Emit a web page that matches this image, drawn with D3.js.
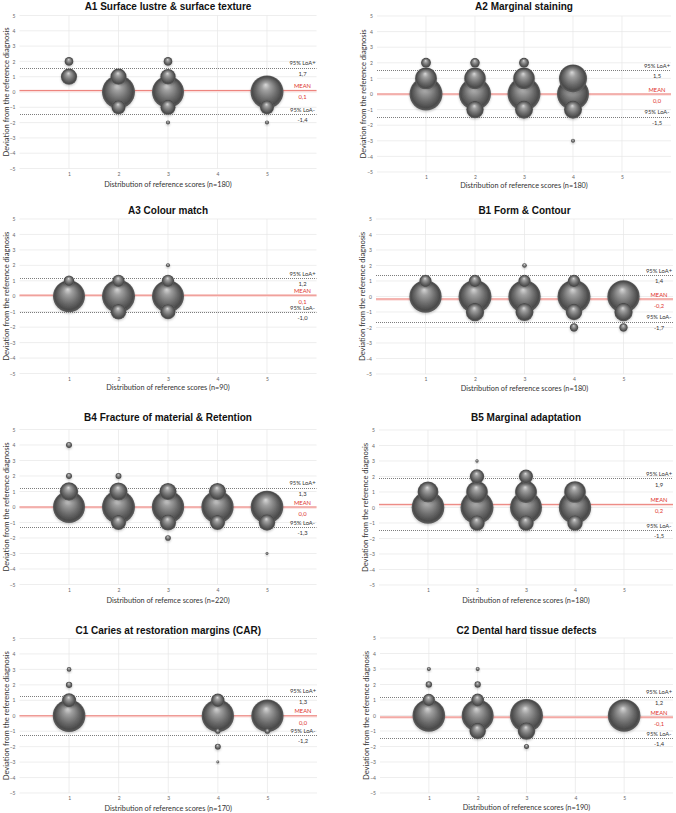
<!DOCTYPE html>
<html><head><meta charset="utf-8">
<script src="https://cdn.jsdelivr.net/npm/d3@7"></script>
<style>body{margin:0;background:#fff}</style>
</head><body><svg id="c" width="676" height="813"></svg>
<script>
// ---------- DATA ----------
const titles = ["A1 Surface lustre & surface texture","A2 Marginal staining","A3 Colour match","B1 Form & Contour",
  "B4 Fracture of material & Retention","B5 Marginal adaptation","C1 Caries at restoration margins (CAR)","C2 Dental hard tissue defects"];
const xTitles = ["Distribution of reference scores (n=180)","Distribution of reference scores (n=180)",
  "Distribution of reference scores (n=90)","Distribution of reference scores (n=180)",
  "Distribution of refemce scores (n=220)","Distribution of reference scores (n=180)",
  "Distribution of reference scores (n=170)","Distribution of reference scores (n=190)"];
const yTitle = "Deviation from the reference diagnosis";
const xTickValues = [1,2,3,4,5];
const yTickValues = [-5,-4,-3,-2,-1,0,1,2,3,4,5];

// bubbles: [reference score, deviation, relative bubble size]
const bubblesA1 = [[1,2,7],[1,1,24],[2,1,24],[2,0,100],[2,-1,18],[3,2,7],[3,1,22],[3,0,94],[3,-1,21],[3,-2,1.5],[5,0,100],[5,-1,18],[5,-2,1.5]];
const bubblesA2 = [[1,2,9],[1,1,44],[1,0,100],[2,2,8.5],[2,1,43],[2,0,94],[2,-1,28],[3,2,9],[3,1,43],[3,0,100],[3,-1,30],[4,1,72],[4,0,94],[4,-1,30],[4,-3,1.5]];
const bubblesA3 = [[1,1,10],[1,0,94],[2,1,14],[2,0,100],[2,-1,22],[3,2,1.5],[3,1,14],[3,0,94],[3,-1,21]];
const bubblesB1 = [[1,1,14],[1,0,96],[2,1,14],[2,0,100],[2,-1,31],[3,2,2],[3,1,14],[3,0,96],[3,-1,30],[4,1,14],[4,0,100],[4,-1,25],[4,-2,6.5],[5,0,96],[5,-1,31],[5,-2,6.5]];
const bubblesB4 = [[1,4,3.3],[1,2,3.3],[1,1,31],[1,0,94],[2,2,3.3],[2,1,30],[2,0,100],[2,-1,21],[3,1,27],[3,0,96],[3,-1,24],[3,-2,3],[4,1,27],[4,0,96],[4,-1,21],[5,0,98],[5,-1,25],[5,-3,0.8]];
const bubblesB5 = [[1,1,40],[1,0,98],[2,3,1],[2,2,19],[2,1,43],[2,0,100],[2,-1,22],[3,2,18],[3,1,44],[3,0,94],[3,-1,22],[4,1,43],[4,0,96],[4,-1,22]];
const bubblesC1 = [[1,3,2],[1,2,3.7],[1,1,18],[1,0,98],[4,1,16.5],[4,0,96],[4,-1,2.5],[4,-2,3.3],[4,-3,0.8],[5,0,96],[5,-1,2.5]];
const bubblesC2 = [[1,3,1.5],[1,2,3.7],[1,1,14],[1,0,98],[2,3,1.5],[2,2,3.7],[2,1,15],[2,0,94],[2,-1,25],[3,0,100],[3,-1,28],[3,-2,2.3],[5,0,98]];
const bubbleSets = [bubblesA1,bubblesA2,bubblesA3,bubblesB1,bubblesB4,bubblesB5,bubblesC1,bubblesC2];

const loaPlus  = [1.6, 1.55, 1.19, 1.39, 1.24, 1.88, 1.3, 1.21];
const means    = [0.1, 0.0, 0.07, -0.16, 0.0, 0.2, 0.0, -0.1];
const loaMinus = [-1.45, -1.45, -1.02, -1.63, -1.3, -1.45, -1.25, -1.47];
const loaPlusLabels  = ["1,7","1,5","1,2","1,4","1,3","1,9","1,3","1,2"];
const meanLabels     = ["0,1","0,0","0,1","-0,2","0,0","0,2","0,0","-0,1"];
const loaMinusLabels = ["-1,4","-1,5","-1,0","-1,7","-1,3","-1,5","-1,2","-1,4"];

// ---------- LAYOUT ----------
const layout = [
  {x0:19.5,x6:316.5,top:15.5,bottom:168.5,tY:9.5,xtY:187},
  {x0:377,x6:671,top:16,bottom:172,tY:9.5,xtY:188},
  {x0:19.5,x6:316.5,top:219,bottom:373.5,tY:213.5,xtY:390},
  {x0:376,x6:673,top:219,bottom:374,tY:213.5,xtY:391},
  {x0:19.5,x6:316.5,top:429.5,bottom:584.5,tY:421,xtY:602.5},
  {x0:379,x6:673,top:430,bottom:585,tY:421,xtY:602.5},
  {x0:19.5,x6:317,top:638.5,bottom:793,tY:634,xtY:810.5},
  {x0:380,x6:673,top:638,bottom:793,tY:634,xtY:810}
];

const svg = d3.select("#c");
const defs = svg.append("defs");
const g0 = defs.append("radialGradient").attr("id","sphere")
  .attr("cx","50%").attr("cy","50%").attr("r","50%").attr("fx","46%").attr("fy","28%");
[[0,"#d8d8d8"],[0.25,"#a0a0a0"],[0.6,"#6e6e6e"],[0.88,"#4a4a4a"],[1,"#5e5e5e"]]
  .forEach(([o,c])=>g0.append("stop").attr("offset",o).attr("stop-color",c));
const f = defs.append("filter").attr("id","shadow").attr("x","-30%").attr("y","-30%").attr("width","160%").attr("height","170%");
f.append("feDropShadow").attr("dx",0).attr("dy",1.2).attr("stdDeviation",1.2).attr("flood-color","#000").attr("flood-opacity",0.22);

const rScale = d3.scaleSqrt().domain([0,100]).range([0,16.5]);
const axisFont = "Lato, 'Open Sans', sans-serif";

layout.forEach((L,i)=>{
  const x = d3.scaleLinear().domain([0,6]).range([L.x0,L.x6]);
  const y = d3.scaleLinear().domain([-5,5]).range([L.bottom,L.top]);
  const g = svg.append("g");

  // gridlines
  g.append("g").selectAll("line").data(yTickValues).join("line")
    .attr("x1",x(0)).attr("x2",x(6)).attr("y1",d=>y(d)).attr("y2",d=>y(d))
    .attr("stroke","#e6e6e6").attr("stroke-width",0.7);
  g.append("g").selectAll("line").data(xTickValues).join("line")
    .attr("x1",d=>x(d)).attr("x2",d=>x(d)).attr("y1",y(5)).attr("y2",y(-5))
    .attr("stroke","#e6e6e6").attr("stroke-width",0.7);

  // axes (labels only)
  const ya = d3.axisLeft(y).tickValues(yTickValues).tickFormat(d3.format("d")).tickSize(0).tickPadding(4);
  const ga = g.append("g").attr("transform",`translate(${x(0)},0)`).call(ya);
  ga.select(".domain").remove();
  ga.selectAll("text").attr("font-size",5).attr("fill","#666").attr("font-family",axisFont);
  const xa = d3.axisBottom(x).tickValues(xTickValues).tickFormat(d3.format("d")).tickSize(0).tickPadding(3.5);
  const gx = g.append("g").attr("transform",`translate(0,${y(-5)})`).call(xa);
  gx.select(".domain").remove();
  gx.selectAll("text").attr("font-size",5).attr("fill","#666").attr("font-family",axisFont);

  // reference lines
  g.append("line").attr("x1",x(0)).attr("x2",x(6)).attr("y1",y(means[i])+0.6).attr("y2",y(means[i])+0.6)
    .attr("stroke","#fbdedc").attr("stroke-width",2.4);
  g.append("line").attr("x1",x(0)).attr("x2",x(6)).attr("y1",y(means[i])).attr("y2",y(means[i]))
    .attr("stroke","#ea7770").attr("stroke-width",0.9);
  [loaPlus[i],loaMinus[i]].forEach(v=>{
    const yy = Math.round(y(v)) + 0.5;
    g.append("line").attr("x1",Math.round(x(0))).attr("x2",x(6)).attr("y1",yy).attr("y2",yy)
      .attr("stroke","#6e6e6e").attr("stroke-width",0.9).attr("stroke-dasharray","1,1");
  });

  // bubbles (largest first so smaller ones stay visible)
  const data = bubbleSets[i].slice().sort((a,b)=>b[2]-a[2]);
  g.append("g").selectAll("circle").data(data).join("circle")
    .attr("cx",d=>x(d[0])).attr("cy",d=>y(d[1])).attr("r",d=>rScale(d[2]))
    .attr("fill","url(#sphere)").attr("filter","url(#shadow)");

  // line labels
  const lx = x(6)-14;
  const lab = (txt,yy,col)=>g.append("text").attr("x",lx).attr("y",yy).attr("text-anchor","middle")
    .attr("dominant-baseline","central").attr("font-size",5.8).attr("font-family",axisFont).attr("fill",col).text(txt);
  lab("95% LoA+", y(loaPlus[i])-4.8, "#333");
  lab(loaPlusLabels[i], y(loaPlus[i])+6, "#333");
  lab("MEAN", y(means[i])-4.8, "#e0342c");
  lab(meanLabels[i], y(means[i])+6.5, "#e0342c");
  lab("95% LoA-", y(loaMinus[i])-4.8, "#333");
  lab(loaMinusLabels[i], y(loaMinus[i])+5.5, "#333");

  // titles
  const cx = (x(0)+x(6))/2;
  g.append("text").attr("x",cx).attr("y",L.tY).attr("text-anchor","middle")
    .attr("font-family","'Liberation Sans', Arial, sans-serif").attr("font-weight","bold").attr("font-size",10)
    .attr("fill","#111").text(titles[i]);
  g.append("text").attr("x",cx).attr("y",L.xtY).attr("text-anchor","middle")
    .attr("font-family",axisFont).attr("font-size",7.3).attr("fill","#333").text(xTitles[i]);
  const yc = (y(5)+y(-5))/2;
  const ytx = x(0) - 14;
  g.append("text").attr("transform",`translate(${ytx},${yc}) rotate(-90)`).attr("text-anchor","middle")
    .attr("dominant-baseline","central")
    .attr("font-family",axisFont).attr("font-size",7.6).attr("fill","#333").text(yTitle);
});
</script></body></html>
